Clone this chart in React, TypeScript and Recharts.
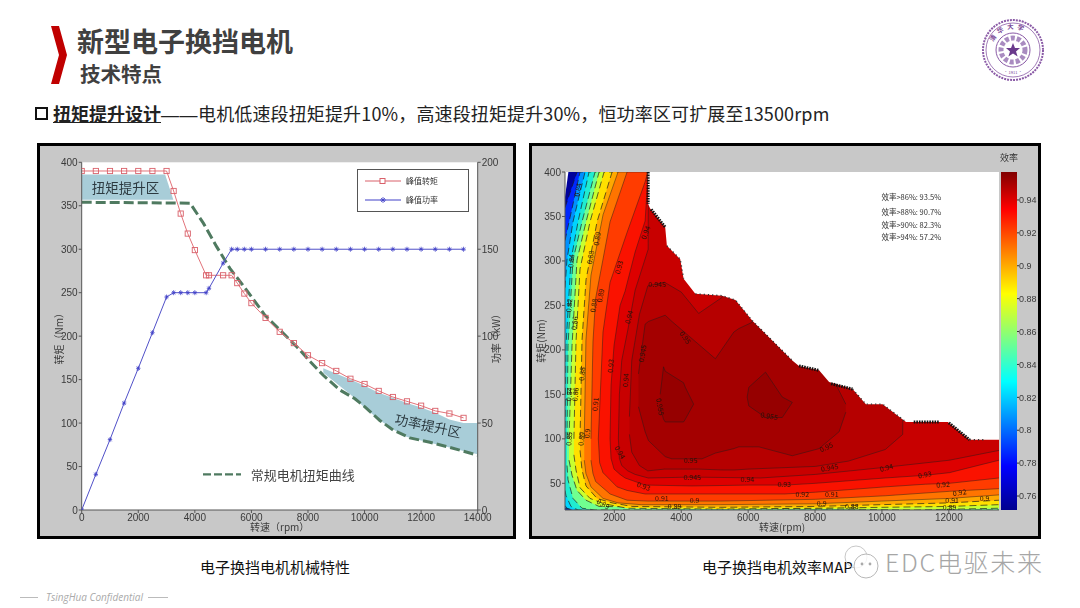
import React from "react";
import {
  Area, Bar, CartesianGrid, ComposedChart, Legend, Line, ReferenceDot, XAxis, YAxis,
} from "recharts";

/* ---------- left chart data ---------- */
const torqueRpm = [0, 500, 1000, 1500, 2000, 2500, 3000, 3250, 3500, 3750, 4000, 4400, 4500, 5000, 5300, 5500, 5750, 6000, 6500, 7000, 7500, 8000, 8500, 9000, 9500, 10000, 10500, 11000, 11500, 12000, 12500, 13000, 13500];
const peakTorque = [390, 390, 390, 390, 390, 390, 390, 367, 341, 318, 299, 270, 270, 270, 270, 261, 249, 238, 221, 205, 192, 178, 169, 160, 151, 145, 137, 130, 125, 120, 114, 111, 106];
const powerRpm = [0, 500, 1000, 1500, 2000, 2500, 3000, 3250, 3500, 3750, 4000, 4400, 4500, 5000, 5300, 5500, 5750, 6000, 6500, 7000, 7500, 8000, 8500, 9000, 9500, 10000, 10500, 11000, 11500, 12000, 12500, 13000, 13500];
const peakPower = [0, 20.5, 40.5, 61.5, 81.5, 102, 122.5, 125, 125, 125, 125, 125, 127.5, 142, 150, 150, 150, 150, 150, 150, 150, 150, 150, 150, 150, 150, 150, 150, 150, 150, 150, 150, 150];
const regularRpm = [0, 3830, 4300, 4770, 5240, 5830, 6480, 7010, 7600, 8070, 8540, 9130, 9660, 10070, 10540, 11010, 11600, 12310, 13020, 14000];
const regularTorque = [354, 353, 330, 303, 278, 253, 224, 207, 188, 171, 155, 138, 128, 117, 103, 92, 83, 78, 72, 63];
const lowBoost = [[0, 357, 386], [2950, 357, 386], [3240, 357, 357]];
const highBoost = [[8540, 158, 163], [9500, 133, 150], [10000, 118, 143], [10500, 104, 135], [11000, 93, 129], [11500, 84, 123], [12000, 80, 118], [12500, 76, 112], [13000, 72, 104], [13500, 68, 100], [14000, 64, 100]];
const keyDash = [[4288, 41], [5633, 41]];
const xTicksLeft = [0, 2000, 4000, 6000, 8000, 10000, 12000, 14000];
const torqueTicks = [0, 50, 100, 150, 200, 250, 300, 350, 400];
const powerTicks = [0, 50, 100, 150, 200];

/* ---------- right chart data: [rpm, lower edge, upper edge] of each contour region ---------- */
const regionBase = [[524, 20, 372], [625, 20, 400], [13500, 20, 400]];
const regionBlue = [[524, 20, 360], [883, 20, 400], [13500, 20, 400]];
const regionAzure = [[524, 22, 323], [973, 20, 400], [13500, 20, 400]];
const regionCyan = [[524, 25, 270], [583, 22, 301], [763, 20, 344], [1123, 20, 400], [13500, 20, 400]];
const regionTeal = [[524, 42, 100], [554, 36, 205], [703, 24, 301], [913, 20, 344], [1242, 20, 400], [13500, 20, 400]];
const regionGreen = [[584, 70, 100], [614, 54, 205], [763, 33, 301], [1033, 22, 344], [1422, 20, 400], [13500, 20, 400]];
const regionLime = [[644, 76, 100], [734, 59, 205], [883, 42, 301], [1153, 31, 344], [1542, 24, 400], [11000, 20, 400], [13500, 22, 400]];
const regionYellow = [[790, 82, 100], [853, 65, 209], [973, 45, 291], [1272, 33, 344], [1692, 27, 400], [2380, 22, 400], [5165, 21, 400], [8010, 22, 400], [9985, 23, 400], [12020, 24, 400], [13500, 26, 400]];
const regionAmber = [[973, 87, 100], [1033, 65, 211], [1153, 47, 279], [1482, 33, 344], [1931, 28, 400], [2530, 24, 400], [5165, 23, 400], [8010, 24, 400], [9985, 26, 400], [12020, 28, 400], [13500, 31, 400]];
const regionOrange = [[1100, 76, 100], [1150, 61, 211], [1300, 46, 284], [1662, 33, 352], [2110, 28, 400], [2800, 26, 400], [5165, 26, 400], [8010, 27, 400], [9985, 30, 400], [12020, 33, 400], [13500, 37, 400]];
const regionOrangeRed = [[1300, 76, 100], [1360, 61, 209], [1440, 52, 258], [1871, 38, 344], [2380, 31, 400], [3000, 30, 400], [5165, 30, 400], [8010, 32, 400], [10100, 36, 400], [12020, 41, 400], [13500, 44, 400]];
const regionRed1 = [[1520, 100, 100], [1560, 73, 134], [1660, 62, 220], [1871, 54, 276], [2080, 46, 299], [2380, 42, 332], [2920, 38, 389], [3000, 38, 400], [5165, 38, 400], [7100, 38, 400], [8010, 40, 400], [10100, 46, 400], [11300, 49, 400], [12020, 50, 400], [13500, 56, 400]];
const regionRed2 = [[1870, 100, 100], [1900, 78, 160], [1990, 66, 205], [2170, 60, 250], [2320, 56, 266], [2620, 52, 310], [2920, 48, 345], [3010, 48, 400], [4320, 47, 400], [6000, 48, 400], [7100, 48, 400], [8010, 50, 400], [10100, 56, 400], [11300, 59, 400], [12020, 62, 400], [13500, 76, 400]];
const regionRed3 = [[2120, 100, 100], [2150, 78, 150], [2220, 70, 188], [2400, 64, 222], [2620, 60, 267], [3010, 56, 313], [3020, 56, 400], [4320, 57, 400], [6370, 56, 400], [8010, 60, 400], [10100, 68, 400], [12020, 76, 400], [13500, 87, 400]];
const regionRed4 = [[2450, 105, 125], [2520, 85, 188], [2750, 70, 240], [3000, 64, 272], [3500, 66, 276], [4000, 66, 265], [4520, 66, 241], [5220, 65, 259], [5600, 65, 300], [6000, 66, 400], [8010, 69, 400], [9000, 75, 400], [10100, 88, 400], [10620, 105, 400], [10630, 140, 140]];
const regionDark = [[2720, 136, 173], [2920, 108, 229], [3020, 98, 232], [3520, 80, 239], [3720, 77.5, 232], [4620, 77.5, 203], [5020, 84, 190], [5570, 89, 220], [5720, 91, 224], [6120, 91, 231], [6320, 91, 300], [7320, 81, 300], [8120, 89, 300], [8500, 101, 170], [8720, 108, 154], [8920, 130, 139]];
const islandOne = [[3370, 135, 150], [3470, 122, 181], [3520, 119, 176], [4070, 119, 163], [4120, 122, 158], [4370, 139, 139]];
const islandTwo = [[5970, 147, 147], [6020, 137, 158], [6520, 124, 175], [7020, 124, 147], [7320, 141, 141]];
const regions = [regionBase, regionBlue, regionAzure, regionCyan, regionTeal, regionGreen, regionLime, regionYellow, regionAmber, regionOrange, regionOrangeRed, regionRed1, regionRed2, regionRed3, regionRed4, regionDark, islandOne, islandTwo];
const regionColors = ["#00009c", "#0028ff", "#0090ff", "#00d4ff", "#20ecd0", "#70ff90", "#c8ff30", "#ffe000", "#ffa800", "#ff7400", "#ff3c00", "#fa1200", "#dd0000", "#c80000", "#b60000", "#a40000", "#960000", "#960000"];
const dashedRegions = [1, 2, 3, 4, 5, 6, 7, 8];

const envelope = [[3000, 400, 400], [3010, 364, 400], [3070, 359, 400], [3520, 338, 400], [3570, 317, 400], [3970, 302, 400], [4070, 280, 400], [4420, 263, 400], [5220, 261, 400], [5620, 256, 400], [6120, 233, 400], [7320, 188, 400], [7520, 182, 400], [8120, 177, 400], [8420, 164, 400], [9120, 156, 400], [9520, 139, 400], [10020, 139, 400], [10720, 119, 400], [11970, 119, 400], [12620, 99, 400], [13500, 99, 400]];
const edgeDense = [
  [[3010, 400], [3010, 364]],
  [[3100, 358], [3520, 338]],
  [[7520, 182], [8120, 177]],
  [[8480, 162], [9120, 156]],
  [[10950, 119], [11700, 119]],
  [[12000, 118], [12620, 99]],
];
const edgeSparse = [
  [[3570, 317], [3970, 302], [4070, 280]],
  [[4420, 263], [5220, 261], [5620, 256], [6120, 233], [7320, 188]],
  [[9120, 156], [9520, 139], [10020, 139], [10720, 119]],
  [[12620, 99], [13100, 99]],
];
const contourLabels: [number, number, string, number][] = [
  [2920, 332, "0.94", -70], [2120, 293, "0.93", -75], [2420, 237, "0.94", -75], [2820, 196, "0.945", -80],
  [1870, 182, "0.93", -85], [2320, 166, "0.94", -85], [3270, 274, "0.945", 0], [4120, 214, "0.95", 55],
  [3370, 136, "0.955", 80], [6620, 126, "0.955", 10], [2170, 85, "0.94", 60], [4270, 76, "0.95", 0],
  [4320, 57, "0.945", 0], [5970, 55, "0.94", 0], [2870, 47, "0.93", 20], [8320, 91, "0.95", -25],
  [8420, 68, "0.945", -10], [10120, 68, "0.94", -15], [7070, 49, "0.93", 0], [11270, 60, "0.93", -10],
  [11820, 49, "0.92", -5], [3420, 33, "0.91", 0], [7620, 38, "0.92", 0], [8500, 38, "0.91", 0],
  [8200, 28, "0.9", 0], [9100, 25, "0.88", 0], [4400, 31, "0.9", 0], [3800, 24, "0.89", 0],
  [12320, 40, "0.92", -10], [12100, 31, "0.91", 0], [13070, 33, "0.9", 0], [12020, 23, "0.89", 0],
  [1670, 27, "0.89", 30], [1470, 325, "0.89", -80], [1270, 304, "0.88", -80], [1570, 261, "0.89", -80],
  [1370, 250, "0.88", -80], [1420, 139, "0.91", -85], [1170, 106, "0.9", -85], [1000, 100, "0.89", -85],
  [1020, 173, "0.88", -85], [820, 150, "0.86", -85], [640, 150, "0.84", -85], [640, 250, "0.82", -85],
  [700, 300, "0.84", -85], [900, 380, "0.84", -80], [640, 100, "0.85", -85], [800, 230, "0.86", -85],
];
const statLabels: [number, number, string][] = [
  [9985, 372, "效率>86%:  93.5%"], [9985, 356, "效率>88%:  90.7%"], [9985, 341, "效率>90%:  82.3%"], [9985, 327, "效率>94%:  57.2%"],
];
const xTicksRight = [2000, 4000, 6000, 8000, 10000, 12000];
const yTicksRight = [50, 100, 150, 200, 250, 300, 350, 400];

/* ---------- colour bar ---------- */
const barRow = [{ name: "效率", range: [0.7515, 0.957] }];
const barTicks = [0.76, 0.78, 0.8, 0.82, 0.84, 0.86, 0.88, 0.9, 0.92, 0.94];
const jetOffsets = ["0%", "11%", "36%", "49%", "62%", "87%", "100%"];
const jetColors = ["#800000", "#ff0000", "#ffff00", "#80ff80", "#00ffff", "#0000ff", "#00008f"];

const cjk = "'Noto Sans CJK SC','Noto Sans',sans-serif";
const axisFont = { fontSize: 10, fill: "#3a3a3a", fontFamily: "'Liberation Sans',sans-serif" };

const bandRows = (pts: number[][]) => pts.map(([rpm, lo, hi]) => ({ rpm, band: [lo, hi] }));
const pointRows = (pts: number[][]) => pts.map(([rpm, t]) => ({ rpm, t }));
const zipRows = (xs: number[], ys: number[]) => xs.map((rpm, i) => ({ rpm, t: ys[i] }));

const SquareDot = (p: any) => (
  <rect key={p.index} x={p.cx - 2.6} y={p.cy - 2.6} width={5.2} height={5.2} fill="none" stroke="#d9606a" strokeWidth={0.9} />
);
const StarDot = (p: any) => (
  <path key={p.index} d={`M${p.cx - 2.2} ${p.cy}H${p.cx + 2.2}M${p.cx} ${p.cy - 2.5}V${p.cy + 2.5}M${p.cx - 1.7} ${p.cy - 1.7}L${p.cx + 1.7} ${p.cy + 1.7}M${p.cx - 1.7} ${p.cy + 1.7}L${p.cx + 1.7} ${p.cy - 1.7}`} stroke="#4040c8" strokeWidth={0.8} fill="none" />
);

const textShape = (text: string, size: number, color: string, angle = 0, anchor = "middle", weight = 400) => (p: any) => (
  <text x={p.cx} y={p.cy} fontSize={size} fill={color} textAnchor={anchor as any} dominantBaseline="central" fontFamily={cjk} fontWeight={weight}
    transform={angle ? `rotate(${angle} ${p.cx} ${p.cy})` : undefined}>{text}</text>
);

const LeftLegend = () => (
  <div style={{ width: 110, height: 41, border: "1px solid #555", background: "#fff", fontFamily: cjk, fontSize: 8, color: "#333", position: "relative" }}>
    <svg width={110} height={41} style={{ position: "absolute", left: 0, top: 0 }}>
      <line x1={7} x2={43} y1={11} y2={11} stroke="#d9606a" strokeWidth={1} />
      <rect x={22} y={8.5} width={5} height={5} fill="#fff" stroke="#d9606a" />
      <line x1={7} x2={43} y1={30} y2={30} stroke="#4040c8" strokeWidth={1} />
      <path d="M22 30H28M25 27V33M23 28L27 32M23 32L27 28" stroke="#4040c8" strokeWidth={0.8} />
    </svg>
    <span style={{ position: "absolute", left: 48, top: 5 }}>峰值转矩</span>
    <span style={{ position: "absolute", left: 48, top: 24 }}>峰值功率</span>
  </div>
);

const LeftChart = () => (
  <ComposedChart width={479} height={396} margin={{ top: 19.3, right: 0, bottom: 0, left: 0 }} data={[]}>
    <CartesianGrid horizontal={false} vertical={false} fill="#fff" />
    <XAxis xAxisId="x" type="number" dataKey="rpm" domain={[0, 14000]} ticks={xTicksLeft} height={29} allowDataOverflow interval={0}
      tick={axisFont} tickSize={3} tickMargin={1} stroke="#555" label={{ value: "转速（rpm）", position: "insideBottom", offset: 8, style: { ...axisFont, fontFamily: cjk } }} />
    <YAxis yAxisId="t" type="number" domain={[0, 400]} ticks={torqueTicks} width={44.7} allowDataOverflow interval={0}
      tick={axisFont} tickSize={3} tickMargin={1} stroke="#555" label={{ value: "转矩（Nm）", angle: -90, position: "insideLeft", offset: 22, textAnchor: "middle", style: { ...axisFont, fontFamily: cjk } }} />
    <YAxis yAxisId="p" orientation="right" type="number" domain={[0, 200]} ticks={powerTicks} width={38.3} allowDataOverflow interval={0}
      tick={axisFont} tickSize={3} tickMargin={1} stroke="#555" label={{ value: "功率（kW）", angle: -90, position: "insideRight", offset: 20, textAnchor: "middle", style: { ...axisFont, fontFamily: cjk } }} />
    <Area xAxisId="x" yAxisId="t" data={bandRows(lowBoost)} dataKey="band" stroke="none" fill="#a8cdd8" fillOpacity={1} isAnimationActive={false} />
    <Area xAxisId="x" yAxisId="t" data={bandRows(highBoost)} dataKey="band" stroke="none" fill="#a8cdd8" fillOpacity={1} isAnimationActive={false} />
    <Line xAxisId="x" yAxisId="t" data={zipRows(regularRpm, regularTorque)} dataKey="t" stroke="#4f7a60" strokeWidth={3} strokeDasharray="10 4" dot={false} isAnimationActive={false} />
    <Line xAxisId="x" yAxisId="t" data={pointRows(keyDash)} dataKey="t" stroke="#4f7a60" strokeWidth={2.4} strokeDasharray="8 3" dot={false} isAnimationActive={false} />
    <Line xAxisId="x" yAxisId="t" name="峰值转矩" data={zipRows(torqueRpm, peakTorque)} dataKey="t" stroke="#e2737a" strokeWidth={1} dot={SquareDot} isAnimationActive={false} />
    <Line xAxisId="x" yAxisId="p" name="峰值功率" data={zipRows(powerRpm, peakPower)} dataKey="t" stroke="#5050c8" strokeWidth={1} dot={StarDot} isAnimationActive={false} />
    <ReferenceDot xAxisId="x" yAxisId="t" x={1550} y={372} r={0} shape={textShape("扭矩提升区", 13.5, "#2c3a40")} />
    <ReferenceDot xAxisId="x" yAxisId="t" x={12250} y={98} r={0} shape={textShape("功率提升区", 13.5, "#2c3a40", 12)} />
    <ReferenceDot xAxisId="x" yAxisId="t" x={5980} y={41} r={0} shape={textShape("常规电机扭矩曲线", 13, "#444", 0, "start")} />
    <Legend layout="horizontal" verticalAlign="middle" align="center" content={LeftLegend}
      wrapperStyle={{ position: "absolute", left: 320, top: 26, width: 112, height: 43, margin: 0, bottom: "auto", right: "auto" }} />
  </ComposedChart>
);

const RightChart = () => (
  <ComposedChart width={470} height={396} margin={{ top: 29, right: 0, bottom: 0, left: 0 }} data={[]}>
    <CartesianGrid horizontal={false} vertical={false} fill="#fff" />
    <XAxis xAxisId="x" type="number" dataKey="rpm" domain={[524, 13500]} ticks={xTicksRight} height={29} allowDataOverflow interval={0}
      tick={axisFont} tickSize={3} tickMargin={1} stroke="#555" label={{ value: "转速(rpm)", position: "insideBottom", offset: 8, style: { ...axisFont, fontFamily: cjk } }} />
    <XAxis xAxisId="top" orientation="top" type="number" domain={[524, 13500]} ticks={xTicksRight} height={0} allowDataOverflow interval={0}
      tick={false} mirror tickSize={3} stroke="#555" />
    <YAxis yAxisId="t" type="number" domain={[20, 400]} ticks={yTicksRight} width={36} allowDataOverflow interval={0}
      tick={axisFont} tickSize={3} tickMargin={1} stroke="#555" label={{ value: "转矩(Nm)", angle: -90, position: "insideLeft", offset: 12, textAnchor: "middle", style: { ...axisFont, fontFamily: cjk } }} />
    <YAxis yAxisId="r" orientation="right" type="number" domain={[20, 400]} ticks={yTicksRight} width={0} allowDataOverflow interval={0}
      tick={false} mirror tickSize={5} stroke="#555" />
    {regions.map((r, i) => (
      <Area key={i} xAxisId="x" yAxisId="t" data={bandRows(r)} dataKey="band" fill={regionColors[i]} fillOpacity={1}
        stroke="#1a1a1a" strokeWidth={dashedRegions.includes(i) ? 0.9 : 0.6} strokeOpacity={i === 0 ? 0 : 0.75}
        strokeDasharray={dashedRegions.includes(i) ? "7 4" : undefined} isAnimationActive={false} />
    ))}
    <Area xAxisId="x" yAxisId="t" data={bandRows(envelope)} dataKey="band" fill="#fff" fillOpacity={1} stroke="none" isAnimationActive={false} />
    {edgeSparse.map((s, i) => (
      <Line key={`s${i}`} xAxisId="x" yAxisId="t" data={pointRows(s)} dataKey="t" stroke="#333" strokeWidth={1.4} strokeDasharray="1.2 3" dot={false} isAnimationActive={false} />
    ))}
    {edgeDense.map((s, i) => (
      <Line key={`d${i}`} xAxisId="x" yAxisId="t" data={pointRows(s)} dataKey="t" stroke="#111" strokeWidth={3} strokeDasharray="1.6 1" dot={false} isAnimationActive={false} />
    ))}
    {contourLabels.map(([rpm, t, s, a], i) => (
      <ReferenceDot key={`c${i}`} xAxisId="x" yAxisId="t" x={rpm} y={t} r={0} shape={textShape(s, 7, "#2a1208", a)} />
    ))}
    {statLabels.map(([rpm, t, s], i) => (
      <ReferenceDot key={`l${i}`} xAxisId="x" yAxisId="t" x={rpm} y={t} r={0} shape={textShape(s, 7.5, "#333", 0, "start")} />
    ))}
  </ComposedChart>
);

const ColorBar = () => (
  <ComposedChart width={40} height={396} margin={{ top: 29, right: 0, bottom: 29, left: 0 }} data={barRow} barCategoryGap={0}>
    <defs>
      <linearGradient id="jet" x1="0" y1="0" x2="0" y2="1">
        {jetOffsets.map((o, i) => <stop key={o} offset={o} stopColor={jetColors[i]} />)}
      </linearGradient>
    </defs>
    <XAxis dataKey="name" hide />
    <YAxis orientation="right" type="number" domain={[0.7515, 0.957]} ticks={barTicks} width={24} allowDataOverflow interval={0}
      tick={{ ...axisFont, fontSize: 9 }} tickSize={2} tickMargin={0} stroke="none" tickLine={{ stroke: "#333" }}
      tickFormatter={(v: number) => String(+v.toFixed(2))} />
    <Bar dataKey="range" fill="url(#jet)" isAnimationActive={false} />
  </ComposedChart>
);

const abs = (left: number, top: number, extra: React.CSSProperties = {}): React.CSSProperties => ({ position: "absolute", left, top, whiteSpace: "nowrap", ...extra });

const Seal = () => (
  <svg width={64} height={64} style={abs(981, 18)} viewBox="0 0 64 64">
    <circle cx={32} cy={32} r={30} fill="#fff" stroke="#8a5aa6" strokeWidth={2} strokeDasharray="2 1" />
    <circle cx={32} cy={32} r={27} fill="none" stroke="#8a5aa6" strokeWidth={0.8} />
    <circle cx={32} cy={32} r={17} fill="none" stroke="#8a5aa6" strokeWidth={1} />
    <circle cx={32} cy={32} r={12} fill="none" stroke="#a98bc0" strokeWidth={5} strokeDasharray="4 2" />
    <path id="sealArc" d="M11 32A21 21 0 0 1 53 32" fill="none" />
    <text fontSize={6.5} fill="#7a4a98" fontFamily={cjk} fontWeight={700} letterSpacing={3}>
      <textPath href="#sealArc" startOffset="12%">清华大学</textPath>
    </text>
    <path d="M32 25l2 5h5l-4 3.4 1.6 5.2L32 35.4l-4.6 3.2L29 33.4 25 30h5z" fill="#6a3a8c" />
    <text x={32} y={56} fontSize={4} textAnchor="middle" fill="#7a4a98" fontFamily={cjk}>• 1911 •</text>
  </svg>
);

export default function App() {
  return (
    <div style={{ position: "absolute", left: 0, top: 0, width: 1080, height: 608, background: "#fff", overflow: "hidden", fontFamily: cjk }}>
      <svg width={20} height={62} style={abs(49, 24)}>
        <polygon points="2,2 10,2 18,31 10,60 2,60 10,31" fill="#c00000" />
      </svg>
      <div style={abs(77, 22, { fontSize: 27, fontWeight: 700, color: "#404040", lineHeight: "38px" })}>新型电子换挡电机</div>
      <div style={abs(80, 59, { fontSize: 20.5, fontWeight: 700, color: "#404040", lineHeight: "29px" })}>技术特点</div>
      <div style={abs(35, 107, { width: 9, height: 9, border: "2px solid #111" })} />
      <div style={abs(53, 100, { fontSize: 18, color: "#222", lineHeight: "26px" })}>
        <span style={{ fontWeight: 700, textDecoration: "underline" }}>扭矩提升设计</span>
        <span style={{ fontFamily: "'Liberation Sans',sans-serif", letterSpacing: 0.5 }}>——</span>
        <span style={{ letterSpacing: 0.14 }}>电机低速段扭矩提升10%，高速段扭矩提升30%，恒功率区可扩展至13500rpm</span>
      </div>
      <Seal />

      <div style={abs(37, 143, { width: 473, height: 390, border: "3px solid #000", background: "#c8c8c8" })} />
      <div style={abs(529, 143, { width: 506, height: 390, border: "3px solid #000", background: "#c8c8c8" })} />
      <div style={abs(37, 143, { filter: "blur(0.4px)" })}><LeftChart /></div>
      <div style={abs(529, 143, { filter: "blur(0.4px)" })}><RightChart /></div>
      <div style={abs(1001, 143, { filter: "blur(0.3px)" })}><ColorBar /></div>
      <div style={abs(1000, 151, { fontSize: 9, color: "#333" })}>效率</div>

      <div style={abs(200, 557, { fontSize: 15, color: "#111", lineHeight: "20px" })}>电子换挡电机机械特性</div>
      <div style={abs(702, 557, { fontSize: 15, color: "#111", lineHeight: "20px" })}>电子换挡电机效率MAP</div>
      <svg width={48} height={44} style={abs(836, 542)}>
        <circle cx={20} cy={15} r={11} fill="none" stroke="#c8c8c8" strokeWidth={1} />
        <circle cx={30} cy={24} r={12} fill="#fff" fillOpacity={0.8} stroke="#b8b8b8" strokeWidth={1} />
        <circle cx={26} cy={22} r={1.4} fill="#aaa" />
        <circle cx={34} cy={22} r={1.4} fill="#aaa" />
      </svg>
      <div style={abs(885, 545, { fontSize: 25, color: "#a6a6a6", lineHeight: "32px", fontWeight: 300, letterSpacing: 1.7 })}>EDC电驱未来</div>
      <div style={abs(20, 590, { width: 18, height: 1, top: 597, background: "#bbb" })} />
      <div style={abs(46, 590, { fontSize: 10, color: "#aaa", fontStyle: "italic", fontFamily: "'Open Sans',sans-serif", lineHeight: "14px" })}>TsingHua Confidential</div>
      <div style={abs(148, 590, { width: 20, height: 1, top: 597, background: "#bbb" })} />
    </div>
  );
}
